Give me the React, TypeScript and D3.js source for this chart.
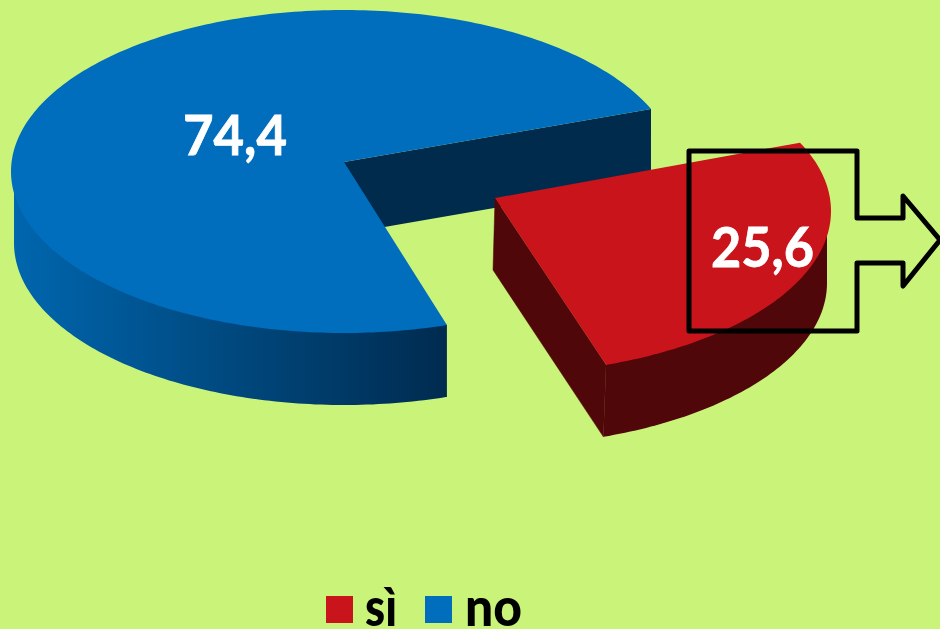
import React from "react";
import * as d3 from "d3";

const categories = ["sì", "no"];
const values = [25.6, 74.4];
const labels = ["25,6", "74,4"];
const colors = ["#c8141a", "#016dbd"];

const W = 940;
const H = 629;
const RAD = Math.PI / 180;
const FONT = "Lato, 'Open Sans', sans-serif";

type Geo = {
  apex: [number, number];
  top: { cx: number; cy: number; rx: number; ry: number };
  bottom: { cx: number; cy: number; rx: number; ry: number };
  screenStart: number;
  screenEnd: number;
};

// Perspective geometry of the two wedges (screen angles, clockwise from 12 o'clock)
const geoSi: Geo = {
  apex: [495, 198],
  top: { cx: 495, cy: 211, rx: 336, ry: 163 },
  bottom: { cx: 493, cy: 283, rx: 334, ry: 163 },
  screenStart: 65.2,
  screenEnd: 160.7,
};
const geoNo: Geo = {
  apex: [344, 162],
  top: { cx: 344, cy: 171.5, rx: 333, ry: 161.5 },
  bottom: { cx: 344, cy: 243, rx: 330, ry: 162 },
  screenStart: 162,
  screenEnd: 427.2,
};
const DEPTH = 72;

const pt = (e: Geo["top"], deg: number): [number, number] => [
  e.cx + e.rx * Math.sin(deg * RAD),
  e.cy - e.ry * Math.cos(deg * RAD),
];
const arcPts = (e: Geo["top"], from: number, to: number) => {
  const n = Math.max(2, Math.ceil(Math.abs(to - from)));
  return d3.range(n + 1).map((i) => pt(e, from + ((to - from) * i) / n));
};
const line = d3.line<[number, number]>();

export default function App() {
  const arcs = d3
    .pie<number>()
    .sort(null)
    .startAngle(0)
    .endAngle(2 * Math.PI)(values);

  const mapAngle = (i: number, g: Geo) =>
    d3
      .scaleLinear()
      .domain([arcs[i].startAngle, arcs[i].endAngle])
      .range([g.screenStart, g.screenEnd]);

  const sMap = mapAngle(0, geoSi);
  const nMap = mapAngle(1, geoNo);
  const s0 = sMap(arcs[0].startAngle);
  const s1 = sMap(arcs[0].endAngle);
  const n0 = nMap(arcs[1].startAngle);
  const n1 = nMap(arcs[1].endAngle);

  // "no" wedge
  const noTop = line([geoNo.apex, ...arcPts(geoNo.top, n0, n1)]) + "Z";
  const noEnd = pt(geoNo.top, n1);
  const noWall =
    line([
      geoNo.apex,
      noEnd,
      [noEnd[0], noEnd[1] + DEPTH],
      [geoNo.apex[0], geoNo.apex[1] + DEPTH],
    ]) + "Z";
  const noStart = pt(geoNo.top, n0);
  const noSide =
    line([
      noStart,
      [noStart[0], noStart[1] + DEPTH],
      ...arcPts(geoNo.bottom, n0, 270),
      [geoNo.bottom.cx - geoNo.bottom.rx, geoNo.top.cy],
    ]) + "Z";

  // "sì" wedge
  const siTop = line([geoSi.apex, ...arcPts(geoSi.top, s0, s1)]) + "Z";
  const siStart = pt(geoSi.top, s1);
  const siBottomStart = pt(geoSi.bottom, s1);
  const siWall =
    line([
      geoSi.apex,
      siStart,
      siBottomStart,
      [geoSi.apex[0] - 2, geoSi.apex[1] + DEPTH],
    ]) + "Z";
  const siSide =
    line([
      siStart,
      ...arcPts(geoSi.bottom, s1, 90),
      [geoSi.bottom.cx + geoSi.bottom.rx, geoSi.top.cy],
    ]) + "Z";

  const callout =
    line([
      [689, 151],
      [857, 151],
      [857, 218],
      [903, 218],
      [903, 196],
      [940, 240],
      [903, 286],
      [903, 263],
      [857, 263],
      [857, 331],
      [689, 331],
    ]) + "Z";

  return (
    <svg
      width={W}
      height={H}
      viewBox={`0 0 ${W} ${H}`}
      style={{ position: "absolute", left: 0, top: 0, display: "block", background: "#caf37a" }}
    >
      <defs>
        <linearGradient id="noSide" gradientUnits="userSpaceOnUse" x1={14} x2={447} y1={0} y2={0}>
          <stop offset="0" stopColor="#0066ae" />
          <stop offset="1" stopColor="#002b4f" />
        </linearGradient>
      </defs>

      <path d={noWall} fill="#002b4d" />
      <path d={noSide} fill="url(#noSide)" />
      <path d={noTop} fill={colors[1]} />

      <path d={siWall} fill="#500709" stroke="#500709" strokeWidth={0.5} />
      <path d={siSide} fill="#500709" />
      <path d={siTop} fill={colors[0]} />

      <path d={callout} fill="none" stroke="#000" strokeWidth={5} strokeLinejoin="round" />

      <text x={183} y={155} fill="#fff" stroke="#fff" strokeWidth={0.8} fontFamily={FONT} fontWeight={700} fontSize={55} textLength={104} lengthAdjust="spacingAndGlyphs">
        {labels[1]}
      </text>
      <text x={711} y={267} fill="#fff" stroke="#fff" strokeWidth={0.8} fontFamily={FONT} fontWeight={700} fontSize={55} textLength={103} lengthAdjust="spacingAndGlyphs">
        {labels[0]}
      </text>

      <rect x={326} y={596} width={27} height={27} fill={colors[0]} />
      <text x={365} y={626} fill="#000" fontFamily={FONT} fontWeight={900} fontSize={54} textLength={32} lengthAdjust="spacingAndGlyphs">
        {categories[0]}
      </text>
      <rect x={425} y={596} width={27} height={27} fill={colors[1]} />
      <text x={465} y={626} fill="#000" fontFamily={FONT} fontWeight={900} fontSize={54} textLength={57} lengthAdjust="spacingAndGlyphs">
        {categories[1]}
      </text>
    </svg>
  );
}
